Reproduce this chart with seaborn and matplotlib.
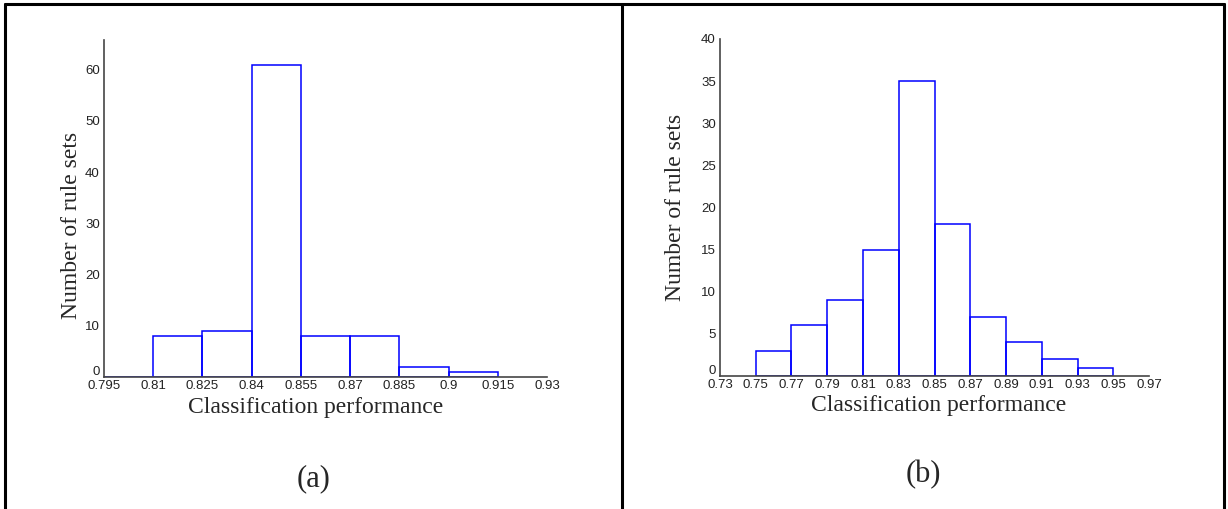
import numpy as np
import seaborn as sns
import matplotlib.pyplot as plt
from matplotlib.lines import Line2D
from matplotlib.transforms import ScaledTranslation

# panel (a) histogram
edges_a = [0.795, 0.81, 0.825, 0.84, 0.855, 0.87, 0.885, 0.9, 0.915]
counts_a = [0, 8, 9, 61, 8, 8, 2, 1]
ticks_a = [0.795, 0.81, 0.825, 0.84, 0.855, 0.87, 0.885, 0.9, 0.915, 0.93]
yticks_a = [0, 10, 20, 30, 40, 50, 60]

# panel (b) histogram
edges_b = [0.75, 0.77, 0.79, 0.81, 0.83, 0.85, 0.87, 0.89, 0.91, 0.93, 0.95]
counts_b = [3, 6, 9, 15, 35, 18, 7, 4, 2, 1]
ticks_b = [0.73, 0.75, 0.77, 0.79, 0.81, 0.83, 0.85, 0.87, 0.89, 0.91, 0.93, 0.95, 0.97]
yticks_b = [0, 5, 10, 15, 20, 25, 30, 35, 40]

sns.set_style("white")
plt.rcParams['font.family'] = ['Liberation Sans', 'DejaVu Sans']

fig = plt.figure(figsize=(12.28, 5.09), dpi=100)
ax_a = fig.add_axes([0.0847, 0.2593, 0.3607, 0.6621])
ax_b = fig.add_axes([0.5863, 0.2613, 0.3494, 0.6621])

serif = ['Liberation Serif', 'DejaVu Serif']
spine_col = '#454545'


def draw(ax, edges, counts, ticks, yticks, xlim, ylim):
    mids = [(edges[i] + edges[i + 1]) / 2 for i in range(len(counts))]
    sns.histplot(x=mids, weights=counts, bins=edges, fill=False,
                 color='#0000ff', linewidth=1.1, ax=ax)
    ax.set_xlim(*xlim)
    ax.set_ylim(*ylim)
    ax.set_xticks(ticks)
    ax.set_xticklabels([f"{t:g}" for t in ticks])
    ax.set_yticks(yticks)
    ax.set_yticklabels([str(t) for t in yticks])
    ax.tick_params(direction='in', length=3.5, width=0.9, color=spine_col,
                   labelsize=9.5, labelcolor='#222222')
    ax.tick_params(axis='x', pad=2.5)
    ax.tick_params(axis='y', pad=3)
    for s in ['top', 'right']:
        ax.spines[s].set_visible(False)
    for s in ['left', 'bottom']:
        ax.spines[s].set_color(spine_col)
        ax.spines[s].set_linewidth(1.2)
    ax.set_xlabel("Classification performance", fontsize=17, family=serif)
    ax.set_ylabel("Number of rule sets", fontsize=17, family=serif)
    # MATLAB puts the "0" a bit above the x axis
    zero = ax.get_yticklabels()[0]
    zero.set_transform(zero.get_transform() +
                       ScaledTranslation(0, 5 / 72, fig.dpi_scale_trans))


draw(ax_a, edges_a, counts_a, ticks_a, yticks_a, (0.795, 0.93), (0, 65.8))
draw(ax_b, edges_b, counts_b, ticks_b, yticks_b, (0.73, 0.97), (0, 40))

ax_a.xaxis.set_label_coords(0.477, -0.059)
ax_a.yaxis.set_label_coords(-0.05, 0.451)
ax_b.xaxis.set_label_coords(0.51, -0.056)
ax_b.yaxis.set_label_coords(-0.079, 0.5)

fig.text(0.2557, 0.045, "(a)", fontsize=22, family=serif, ha='center', va='baseline')
fig.text(0.752, 0.053, "(b)", fontsize=22, family=serif, ha='center', va='baseline')

# table-like frame around the two panels
W, H = 1228, 509
frame = [((5, 5), (H, 4)), ((1224, 1224), (H, 4)), ((622, 622), (H, 4)),
         ((5, 1224), (4, 4))]
for xs, ys in frame:
    fig.add_artist(Line2D([xs[0] / W, xs[1] / W], [1 - ys[0] / H, 1 - ys[1] / H],
                          transform=fig.transFigure, color='black', linewidth=2.2))

fig.savefig("out.png", dpi=100)
